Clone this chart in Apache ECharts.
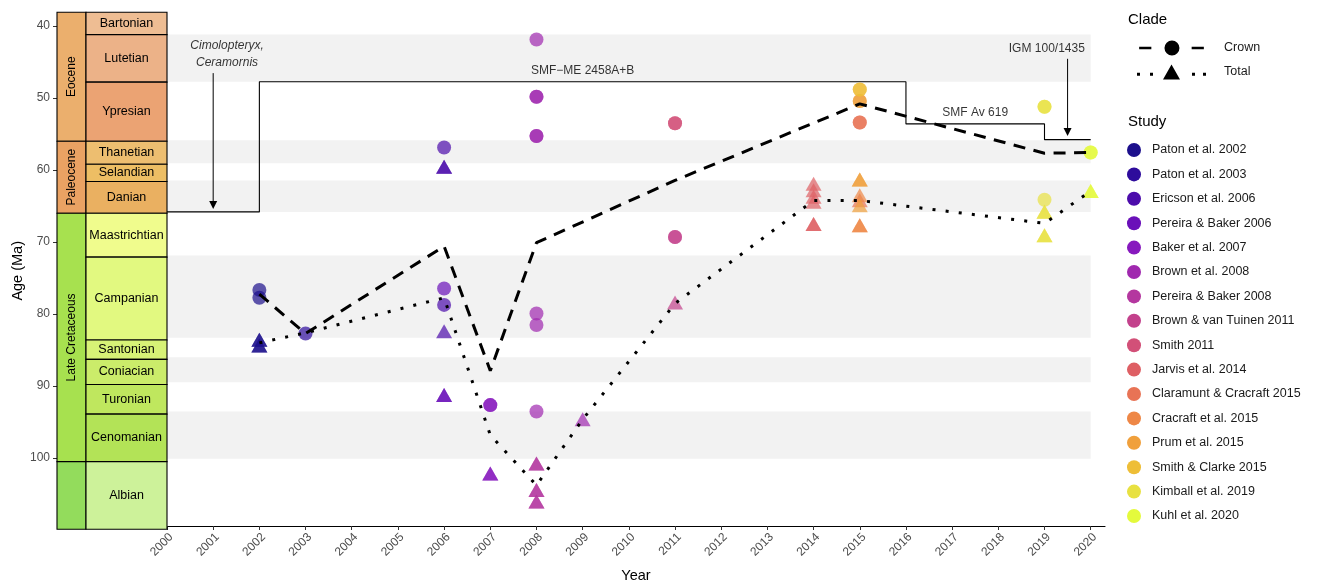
<!DOCTYPE html>
<html>
<head>
<meta charset="utf-8">
<script src="https://cdn.jsdelivr.net/npm/echarts@6/dist/echarts.min.js"></script>
<style>
  html, body { margin: 0; padding: 0; background: #fff; }
  #chart { width: 1319px; height: 588px; }
</style>
</head>
<body>
<div id="chart"></div>
<script>
// ---- Geological time scale (Ma) ----
const stageNames = ['Bartonian', 'Lutetian', 'Ypresian', 'Thanetian', 'Selandian', 'Danian',
  'Maastrichtian', 'Campanian', 'Santonian', 'Coniacian', 'Turonian', 'Cenomanian', 'Albian'];
const stageTops  = [37.7, 41.2, 47.8, 56.0, 59.2, 61.6, 66.0, 72.1, 83.6, 86.3, 89.8, 93.9, 100.5];
const stageBases = [41.2, 47.8, 56.0, 59.2, 61.6, 66.0, 72.1, 83.6, 86.3, 89.8, 93.9, 100.5, 113.0];

const epochNames = ['Eocene', 'Paleocene', 'Late Cretaceous', 'Early Cretaceous'];
const epochTops  = [33.9, 56.0, 66.0, 100.5];
const epochBases = [56.0, 66.0, 100.5, 145.0];

// ---- Studies ----
const studies = ['Paton et al. 2002', 'Paton et al. 2003', 'Ericson et al. 2006', 'Pereira & Baker 2006',
  'Baker et al. 2007', 'Brown et al. 2008', 'Pereira & Baker 2008', 'Brown & van Tuinen 2011',
  'Smith 2011', 'Jarvis et al. 2014', 'Claramunt & Cracraft 2015', 'Cracraft et al. 2015',
  'Prum et al. 2015', 'Smith & Clarke 2015', 'Kimball et al. 2019', 'Kuhl et al. 2020'];

// Crown-group age estimates: [year, age (Ma), study]
const crownEstimates = [
  [2002, 76.9, 'Paton et al. 2002'], [2002, 78.0, 'Paton et al. 2002'],
  [2003, 83.0, 'Paton et al. 2003'],
  [2006, 57.0, 'Ericson et al. 2006'], [2006, 79.0, 'Ericson et al. 2006'],
  [2006, 76.7, 'Pereira & Baker 2006'],
  [2007, 93.0, 'Baker et al. 2007'], [2007, 93.0, 'Baker et al. 2007'],
  [2008, 41.9, 'Brown et al. 2008'], [2008, 49.9, 'Brown et al. 2008'], [2008, 49.9, 'Brown et al. 2008'],
  [2008, 55.4, 'Brown et al. 2008'], [2008, 55.4, 'Brown et al. 2008'],
  [2008, 80.2, 'Brown et al. 2008'], [2008, 81.8, 'Brown et al. 2008'], [2008, 93.9, 'Brown et al. 2008'],
  [2011, 53.6, 'Smith 2011'], [2011, 53.6, 'Smith 2011'],
  [2011, 69.5, 'Brown & van Tuinen 2011'], [2011, 69.5, 'Brown & van Tuinen 2011'],
  [2015, 48.9, 'Smith & Clarke 2015'], [2015, 48.9, 'Smith & Clarke 2015'],
  [2015, 50.5, 'Prum et al. 2015'], [2015, 50.5, 'Prum et al. 2015'],
  [2015, 53.5, 'Claramunt & Cracraft 2015'], [2015, 53.5, 'Claramunt & Cracraft 2015'],
  [2019, 51.3, 'Kimball et al. 2019'], [2019, 51.3, 'Kimball et al. 2019'],
  [2019, 64.3, 'Kimball et al. 2019'],
  [2020, 57.7, 'Kuhl et al. 2020'], [2020, 57.7, 'Kuhl et al. 2020']
];

// Total-group age estimates: [year, age (Ma), study]
const totalEstimates = [
  [2002, 84.2, 'Paton et al. 2002'], [2002, 84.2, 'Paton et al. 2002'],
  [2002, 85.0, 'Paton et al. 2002'], [2002, 85.0, 'Paton et al. 2002'],
  [2006, 60.0, 'Ericson et al. 2006'], [2006, 60.0, 'Ericson et al. 2006'],
  [2006, 83.0, 'Ericson et al. 2006'],
  [2006, 91.9, 'Pereira & Baker 2006'], [2006, 91.9, 'Pereira & Baker 2006'],
  [2007, 102.9, 'Baker et al. 2007'], [2007, 102.9, 'Baker et al. 2007'],
  [2008, 101.5, 'Pereira & Baker 2008'], [2008, 101.5, 'Pereira & Baker 2008'],
  [2008, 105.2, 'Pereira & Baker 2008'], [2008, 105.2, 'Pereira & Baker 2008'],
  [2008, 106.8, 'Pereira & Baker 2008'], [2008, 106.8, 'Pereira & Baker 2008'],
  [2009, 95.3, 'Brown et al. 2008'],
  [2011, 79.0, 'Brown & van Tuinen 2011'],
  [2014, 62.4, 'Jarvis et al. 2014'], [2014, 63.3, 'Jarvis et al. 2014'],
  [2014, 64.2, 'Jarvis et al. 2014'], [2014, 64.9, 'Jarvis et al. 2014'],
  [2014, 68.0, 'Jarvis et al. 2014'], [2014, 68.0, 'Jarvis et al. 2014'],
  [2015, 61.8, 'Prum et al. 2015'], [2015, 61.8, 'Prum et al. 2015'],
  [2015, 64.0, 'Cracraft et al. 2015'], [2015, 64.7, 'Claramunt & Cracraft 2015'],
  [2015, 65.4, 'Prum et al. 2015'],
  [2015, 68.2, 'Cracraft et al. 2015'], [2015, 68.2, 'Cracraft et al. 2015'],
  [2019, 66.3, 'Kimball et al. 2019'], [2019, 66.3, 'Kimball et al. 2019'],
  [2019, 69.6, 'Kimball et al. 2019'], [2019, 69.6, 'Kimball et al. 2019'],
  [2020, 63.4, 'Kuhl et al. 2020'], [2020, 63.4, 'Kuhl et al. 2020']
];

// Mean estimate per publication year
const crownMeanYears = [2002, 2003, 2006, 2007, 2008, 2011, 2015, 2019, 2020];
const crownMeanAges  = [77.5, 83.0, 70.8, 88.2, 70.3, 61.6, 50.9, 57.8, 57.7];
const totalMeanYears = [2002, 2003, 2006, 2007, 2008, 2009, 2011, 2014, 2015, 2019, 2020];
const totalMeanAges  = [84.3, 82.9, 78.0, 97.2, 104.2, 95.0, 78.8, 64.4, 64.4, 67.6, 63.1];

// Oldest fossil constraint through time
const fossilYears = [2000, 2002, 2002, 2016, 2016, 2019, 2019, 2020];
const fossilAges  = [66.0, 66.0, 47.8, 47.8, 53.7, 53.7, 55.9, 55.9];

// Fossil annotations
const noteTexts = ['Cimolopteryx,\nCeramornis', 'SMF\u2212ME 2458A+B', 'SMF Av 619', 'IGM 100/1435'];
const noteYears = [2001.3, 2009.0, 2017.5, 2019.05];
const noteAges  = [43.9, 46.2, 52.2, 43.2];
const arrowYears = [2001.0, 2019.5];
const arrowFrom  = [46.6, 44.6];
const arrowTo    = [65.6, 55.4];

const yearTicks = [];
for (let y = 2000; y <= 2020; y++) yearTicks.push(y);
const ageTicks = [40, 50, 60, 70, 80, 90, 100];

// ---- Styling ----
const FONT = '"Liberation Sans", Arial, Helvetica, sans-serif';
const Y_MIN = 38.1, Y_MAX = 109.9;
const X_MIN = 2000, X_MAX = 2020.31, BAND_END = 2020;
const studyColors = ['#1C0F8C', '#2E0C9C', '#4C0CAB', '#6A10B9', '#8719BE', '#A028AF', '#B4379F',
  '#C3418C', '#D25078', '#DE5F64', '#E87355', '#EE8746', '#F0A03C', '#EEBE37', '#E8E141', '#E4FA3C'];
const stageColors = ['#EEBD93', '#ECB288', '#EBA373', '#EDBE70', '#EDBE64', '#EAB061',
  '#F0FC8D', '#E2F980', '#D7F276', '#CBEC6A', '#BFE75E', '#B3E357', '#CDF29A'];
const epochColors = ['#EBAF6D', '#EAA263', '#A7E14F', '#93DC5C'];

const measureCtx = document.createElement('canvas').getContext('2d');

function columnRenderer(names, colors, vertical, fontSize) {
  return function (params, api) {
    const i = api.value(2);
    const top = Math.max(api.value(0), Y_MIN);
    const bot = Math.min(api.value(1), Y_MAX);
    const p0 = api.coord([0, top]);
    const p1 = api.coord([1, bot]);
    const w = p1[0] - p0[0], h = p1[1] - p0[1];
    const children = [{
      type: 'rect',
      shape: { x: p0[0], y: p0[1], width: w, height: h },
      style: { fill: colors[i], stroke: '#000', lineWidth: 1.1 }
    }];
    measureCtx.font = fontSize + 'px ' + FONT;
    const tw = measureCtx.measureText(names[i]).width;
    const fits = vertical ? tw < h - 4 : (h > fontSize && tw < w);
    if (fits) {
      children.push({
        type: 'text',
        x: p0[0] + w / 2,
        y: p0[1] + h / 2,
        rotation: vertical ? Math.PI / 2 : 0,
        style: {
          text: names[i], fill: '#000', fontSize: fontSize, fontFamily: FONT,
          align: 'center', verticalAlign: 'middle'
        }
      });
    }
    return { type: 'group', children };
  };
}

const grids = [
  { left: 167, right: 214, top: 12.3, bottom: 58.7 },   // main panel
  { left: 57, width: 29, top: 12.3, bottom: 58.7 },     // epochs
  { left: 86, width: 81, top: 12.3, bottom: 58.7 }      // stages
];

const yBase = { type: 'value', min: Y_MIN, max: Y_MAX, inverse: true, splitLine: { show: false } };

const series = [];

// Alternating shading behind every other stage
series.push({
  type: 'custom', xAxisIndex: 0, yAxisIndex: 0, z: 0, silent: true,
  data: stageNames.map((n, i) => [stageTops[i], stageBases[i]]).filter((d, i) => i % 2 === 1),
  renderItem: function (params, api) {
    const p0 = api.coord([X_MIN, Math.max(api.value(0), Y_MIN)]);
    const p1 = api.coord([BAND_END, Math.min(api.value(1), Y_MAX)]);
    return { type: 'rect', shape: { x: p0[0], y: p0[1], width: p1[0] - p0[0], height: p1[1] - p0[1] },
      style: { fill: '#F2F2F2' } };
  }
});

// Fossil constraint step line
series.push({
  type: 'line', name: 'fossil', xAxisIndex: 0, yAxisIndex: 0, z: 2, silent: true,
  data: fossilYears.map((y, i) => [y, fossilAges[i]]),
  symbol: 'none', lineStyle: { color: '#000', width: 1.1 }
});

// Annotation arrows
series.push({
  type: 'custom', xAxisIndex: 0, yAxisIndex: 0, z: 2, silent: true,
  data: arrowYears.map((y, i) => [y, arrowFrom[i], arrowTo[i]]),
  renderItem: function (params, api) {
    const a = api.coord([api.value(0), api.value(1)]);
    const b = api.coord([api.value(0), api.value(2)]);
    return { type: 'group', children: [
      { type: 'line', shape: { x1: a[0], y1: a[1], x2: b[0], y2: b[1] - 6 },
        style: { stroke: '#000', lineWidth: 1 } },
      { type: 'polygon', shape: { points: [[b[0] - 4, b[1] - 8], [b[0] + 4, b[1] - 8], [b[0], b[1]]] },
        style: { fill: '#000' } }
    ] };
  }
});

// Annotation labels
series.push({
  type: 'scatter', name: 'notes', xAxisIndex: 0, yAxisIndex: 0, z: 2, silent: true,
  symbolSize: 0,
  data: noteTexts.map((t, i) => ({
    name: t, value: [noteYears[i], noteAges[i]],
    label: { fontStyle: i === 0 ? 'italic' : 'normal' }
  })),
  label: { show: true, position: 'inside', formatter: '{b}', color: '#000', fontSize: 12,
    fontFamily: FONT, lineHeight: 17 }
});

// Study estimates: circles = crown, triangles = total
studies.forEach((s, k) => {
  const data = [];
  crownEstimates.filter(d => d[2] === s).forEach(d => data.push({ value: [d[0], d[1]] }));
  totalEstimates.filter(d => d[2] === s).forEach(d => data.push({
    value: [d[0], d[1]], symbol: 'triangle', symbolSize: [16, 14], symbolOffset: [0, -2.3]
  }));
  series.push({
    type: 'scatter', name: s, xAxisIndex: 0, yAxisIndex: 0, z: 3,
    symbol: 'circle', symbolSize: 14,
    itemStyle: { color: studyColors[k], opacity: 0.7 },
    data
  });
});

// Yearly means
series.push({
  type: 'line', name: 'Crown', xAxisIndex: 0, yAxisIndex: 0, z: 4,
  data: crownMeanYears.map((y, i) => [y, crownMeanAges[i]]),
  symbol: 'none', color: '#000',
  lineStyle: { color: '#000', width: 3, type: [12, 8.5], cap: 'butt' }
});
series.push({
  type: 'line', name: 'Total', xAxisIndex: 0, yAxisIndex: 0, z: 4,
  data: totalMeanYears.map((y, i) => [y, totalMeanAges[i]]),
  symbol: 'none', color: '#000',
  lineStyle: { color: '#000', width: 3, type: [3, 10.2], cap: 'butt' }
});

// Time-scale columns
series.push({
  type: 'custom', xAxisIndex: 1, yAxisIndex: 1, silent: true,
  data: epochNames.map((n, i) => [epochTops[i], epochBases[i], i]),
  renderItem: columnRenderer(epochNames, epochColors, true, 12)
});
series.push({
  type: 'custom', xAxisIndex: 2, yAxisIndex: 2, silent: true,
  data: stageNames.map((n, i) => [stageTops[i], stageBases[i], i]),
  renderItem: columnRenderer(stageNames, stageColors, false, 12.5)
});

const crownIcon = 'path://M0,6.2h13v2.6h-13z M27,7.5a8,8 0 1,0 16,0a8,8 0 1,0 -16,0z M56,6.2h13v2.6h-13z';
const totalIcon = 'path://M0,8.3h3v3h-3z M13,8.3h3v3h-3z M26,15 L34.5,0 L43,15z M55,8.3h3v3h-3z M66,8.3h3v3h-3z';

const option = {
  animation: false,
  backgroundColor: '#fff',
  textStyle: { fontFamily: FONT },
  title: [
    { text: 'Clade', left: 1128, top: 12, padding: 0,
      textStyle: { fontSize: 15, fontWeight: 'normal', color: '#000', fontFamily: FONT } },
    { text: 'Study', left: 1128, top: 114, padding: 0,
      textStyle: { fontSize: 15, fontWeight: 'normal', color: '#000', fontFamily: FONT } }
  ],
  legend: [
    {
      orient: 'vertical', left: 1137, top: 40.5, padding: 0,
      itemWidth: 69, itemHeight: 15, itemGap: 9,
      data: [{ name: 'Crown', icon: crownIcon }, { name: 'Total', icon: totalIcon }],
      itemStyle: { borderWidth: 0, opacity: 1 },
      textStyle: { fontSize: 12.5, color: '#1a1a1a', fontFamily: FONT, padding: [0, 0, 0, 13] },
      selectedMode: false
    },
    {
      orient: 'vertical', left: 1127, top: 143, padding: 0,
      itemWidth: 26, itemHeight: 14, itemGap: 10.4,
      data: studies.map(s => ({ name: s, icon: 'circle' })),
      itemStyle: { opacity: 1, borderWidth: 0 },
      textStyle: { fontSize: 12.5, color: '#1a1a1a', fontFamily: FONT },
      selectedMode: false
    }
  ],
  grid: grids,
  xAxis: [
    {
      gridIndex: 0, type: 'value', min: X_MIN, max: X_MAX,
      name: 'Year', nameLocation: 'middle', nameGap: 42,
      nameTextStyle: { fontSize: 14.5, color: '#000', fontFamily: FONT, verticalAlign: 'top' },
      axisLine: { show: true, lineStyle: { color: '#000', width: 1.1 } },
      axisTick: { show: true, length: 4, customValues: yearTicks, lineStyle: { color: '#333' } },
      axisLabel: { customValues: yearTicks, rotate: 45, margin: 5, verticalAlign: 'top',
        fontSize: 12, color: '#4d4d4d', fontFamily: FONT, formatter: v => String(v) },
      splitLine: { show: false }
    },
    { gridIndex: 1, type: 'value', min: 0, max: 1, show: false },
    { gridIndex: 2, type: 'value', min: 0, max: 1, show: false }
  ],
  yAxis: [
    Object.assign({ gridIndex: 0, show: false }, yBase),
    Object.assign({
      gridIndex: 1,
      name: 'Age (Ma)', nameLocation: 'middle', nameGap: 32, nameRotate: 90,
      nameTextStyle: { fontSize: 14.5, color: '#000', fontFamily: FONT },
      axisLine: { show: false },
      axisTick: { show: true, length: 4, customValues: ageTicks, lineStyle: { color: '#333' } },
      axisLabel: { customValues: ageTicks, margin: 7, fontSize: 12, color: '#4d4d4d', fontFamily: FONT }
    }, yBase),
    Object.assign({ gridIndex: 2, show: false }, yBase)
  ],
  series
};

const chart = echarts.init(document.getElementById('chart'), null, { renderer: 'canvas' });
chart.setOption(option);
</script>
</body>
</html>
